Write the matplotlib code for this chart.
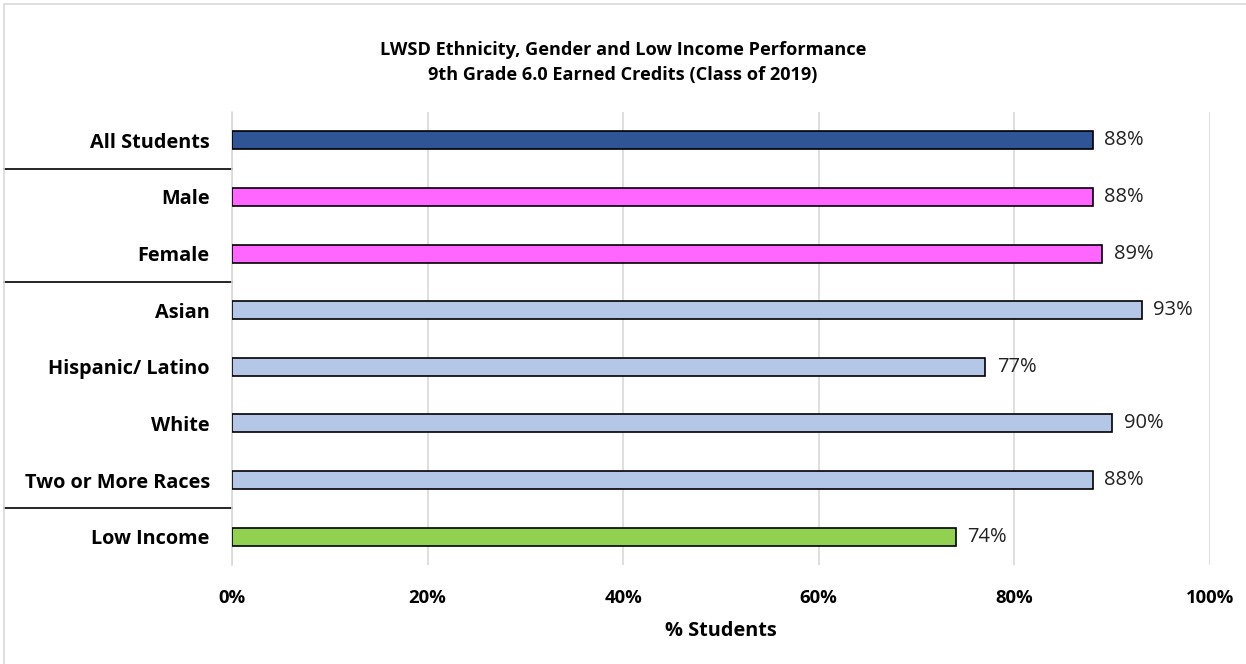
import matplotlib
matplotlib.use("Agg")
import matplotlib.pyplot as plt
from matplotlib.patches import Rectangle
import matplotlib.transforms as mtransforms
from matplotlib.textpath import TextPath
from matplotlib.font_manager import FontProperties

categories = ["All Students", "Male", "Female", "Asian", "Hispanic/ Latino",
              "White", "Two or More Races", "Low Income"]
values = [88, 88, 89, 93, 77, 90, 88, 74]
colors = ["#2F5597", "#FF66FF", "#FF66FF", "#B4C7E7", "#B4C7E7",
          "#B4C7E7", "#B4C7E7", "#92D050"]
xticks = [0, 20, 40, 60, 80, 100]
xtick_labels = ["0%", "20%", "40%", "60%", "80%", "100%"]
separators_after = [0, 2, 6]
title_lines = ["LWSD Ethnicity, Gender and Low Income Performance",
               "9th Grade 6.0 Earned Credits (Class of 2019)"]
xlabel = "% Students"

FAMILY = "Open Sans"
plt.rcParams['font.family'] = [FAMILY, 'DejaVu Sans']


def fit_size(text, target_px, weight):
    # font size (pt) so that text is about target_px wide at 100 dpi
    fp = FontProperties(family=FAMILY, weight=weight, size=10)
    w = TextPath((0, 0), text, prop=fp).get_extents().width  # in points at size 10
    return 10 * target_px / (w * 100 / 72)


ylab_size = fit_size("All Students", 119, "bold")
title_size = fit_size(title_lines[0], 482, "bold")
val_size = fit_size("88%", 37.7, "normal")
tick_size = fit_size("100%", 46.7, "bold")
xlab_size = fit_size(xlabel, 110, "bold")

W, H = 1246, 664
fig = plt.figure(figsize=(W / 100, H / 100), dpi=100)
ax = fig.add_axes([232 / W, 1 - 565 / H, (1210 - 232) / W, (565 - 112) / H])

y = list(range(len(categories)))
ax.barh(y, values, height=0.32, color=colors, edgecolor="black", linewidth=1.2, zorder=3)
for yi, v in zip(y, values):
    ax.annotate(f"{v}%", (v, yi), xytext=(8.5, 0), textcoords="offset points",
                va="center", ha="left", fontsize=val_size, color="#222222")

ax.set_ylim(len(categories) - 0.5, -0.5)
ax.set_xlim(0, 100)
ax.set_yticks(y)
ax.set_yticklabels(categories, fontsize=ylab_size, fontweight="bold")
ax.set_xticks(xticks)
ax.set_xticklabels(xtick_labels, fontsize=tick_size, fontweight="bold")
ax.tick_params(axis="both", length=0)
ax.tick_params(axis="y", pad=16)
ax.tick_params(axis="x", pad=17)
ax.grid(axis="x", color="#D9D9D9", linewidth=1.2, zorder=0)
for s in ["top", "right", "bottom"]:
    ax.spines[s].set_visible(False)
ax.spines["left"].set_color("#D9D9D9")
ax.spines["left"].set_linewidth(1.2)

ax.set_xlabel(xlabel, fontsize=xlab_size, fontweight="bold", labelpad=10)

trans = mtransforms.blended_transform_factory(ax.transAxes, ax.transData)
x0 = (4 - 232) / (1210 - 232)
for i in separators_after:
    ax.plot([x0, 0], [i + 0.5, i + 0.5], color="black", linewidth=1.2,
            transform=trans, clip_on=False)

fig.text(0.5, 1 - 50 / H, title_lines[0], ha="center", va="center",
         fontsize=title_size, fontweight="bold")
fig.text(0.5, 1 - 75 / H, title_lines[1], ha="center", va="center",
         fontsize=title_size, fontweight="bold")

fig.patches.append(Rectangle((4 / W, -0.1), 1.2, 1.1 - 4 / H, transform=fig.transFigure,
                             fill=False, edgecolor="#D9D9D9", linewidth=1.2))

fig.savefig("out.png", dpi=100)
